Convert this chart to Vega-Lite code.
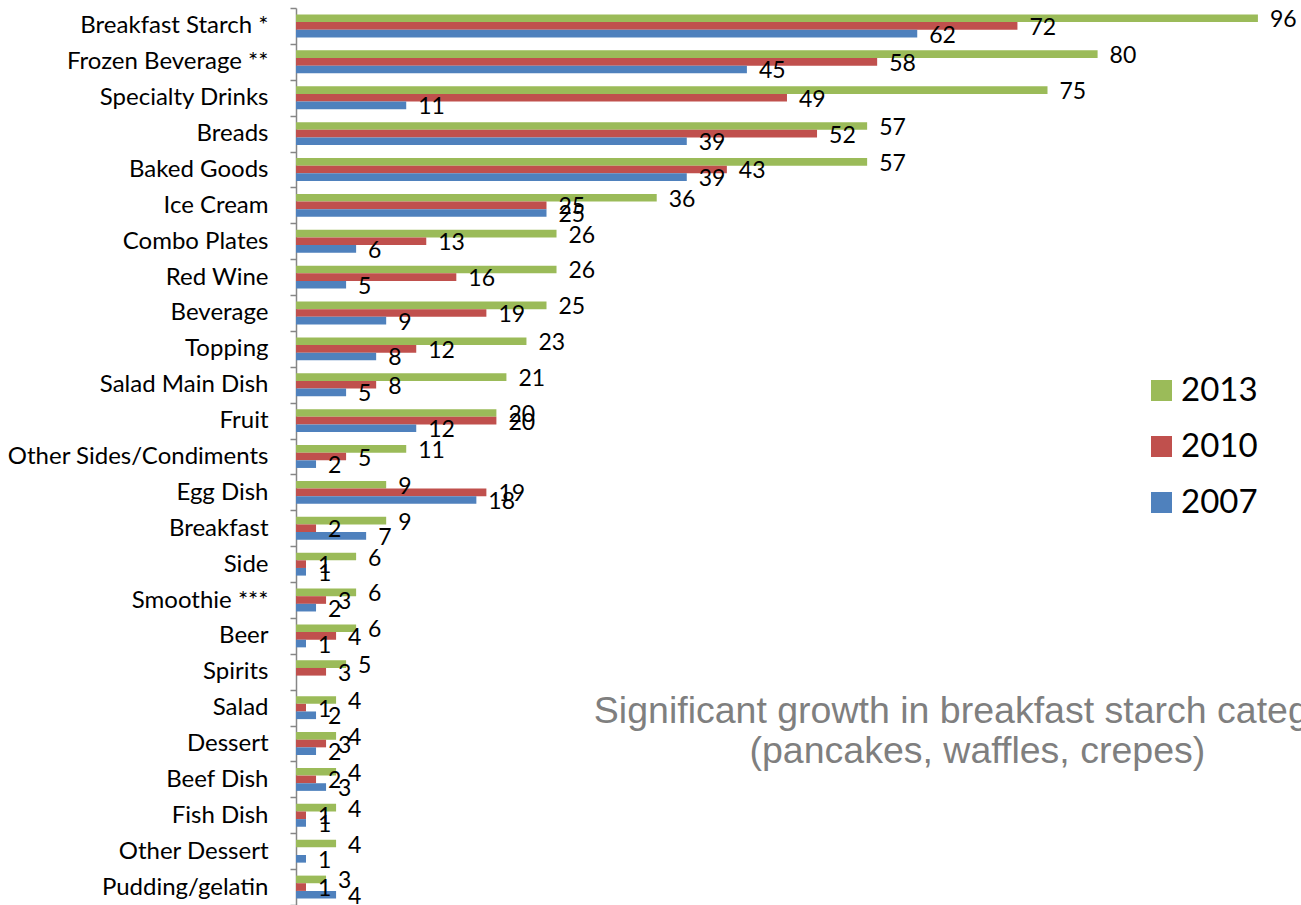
{
  "$schema": "https://vega.github.io/schema/vega-lite/v6.json",
  "width": 1002,
  "height": 897,
  "autosize": {"type": "none"},
  "padding": {"left": 296, "top": 8, "right": 3, "bottom": 0},
  "background": "white",
  "config": {"view": {"stroke": null}, "font": "Lato"},
  "data": {"values": [
    {"cat": "Breakfast Starch *", "year": "2013", "value": 96},
    {"cat": "Breakfast Starch *", "year": "2010", "value": 72},
    {"cat": "Breakfast Starch *", "year": "2007", "value": 62},
    {"cat": "Frozen Beverage **", "year": "2013", "value": 80},
    {"cat": "Frozen Beverage **", "year": "2010", "value": 58},
    {"cat": "Frozen Beverage **", "year": "2007", "value": 45},
    {"cat": "Specialty Drinks", "year": "2013", "value": 75},
    {"cat": "Specialty Drinks", "year": "2010", "value": 49},
    {"cat": "Specialty Drinks", "year": "2007", "value": 11},
    {"cat": "Breads", "year": "2013", "value": 57},
    {"cat": "Breads", "year": "2010", "value": 52},
    {"cat": "Breads", "year": "2007", "value": 39},
    {"cat": "Baked Goods", "year": "2013", "value": 57},
    {"cat": "Baked Goods", "year": "2010", "value": 43},
    {"cat": "Baked Goods", "year": "2007", "value": 39},
    {"cat": "Ice Cream", "year": "2013", "value": 36},
    {"cat": "Ice Cream", "year": "2010", "value": 25},
    {"cat": "Ice Cream", "year": "2007", "value": 25},
    {"cat": "Combo Plates", "year": "2013", "value": 26},
    {"cat": "Combo Plates", "year": "2010", "value": 13},
    {"cat": "Combo Plates", "year": "2007", "value": 6},
    {"cat": "Red Wine", "year": "2013", "value": 26},
    {"cat": "Red Wine", "year": "2010", "value": 16},
    {"cat": "Red Wine", "year": "2007", "value": 5},
    {"cat": "Beverage", "year": "2013", "value": 25},
    {"cat": "Beverage", "year": "2010", "value": 19},
    {"cat": "Beverage", "year": "2007", "value": 9},
    {"cat": "Topping", "year": "2013", "value": 23},
    {"cat": "Topping", "year": "2010", "value": 12},
    {"cat": "Topping", "year": "2007", "value": 8},
    {"cat": "Salad Main Dish", "year": "2013", "value": 21},
    {"cat": "Salad Main Dish", "year": "2010", "value": 8},
    {"cat": "Salad Main Dish", "year": "2007", "value": 5},
    {"cat": "Fruit", "year": "2013", "value": 20},
    {"cat": "Fruit", "year": "2010", "value": 20},
    {"cat": "Fruit", "year": "2007", "value": 12},
    {"cat": "Other Sides/Condiments", "year": "2013", "value": 11},
    {"cat": "Other Sides/Condiments", "year": "2010", "value": 5},
    {"cat": "Other Sides/Condiments", "year": "2007", "value": 2},
    {"cat": "Egg Dish", "year": "2013", "value": 9},
    {"cat": "Egg Dish", "year": "2010", "value": 19},
    {"cat": "Egg Dish", "year": "2007", "value": 18},
    {"cat": "Breakfast", "year": "2013", "value": 9},
    {"cat": "Breakfast", "year": "2010", "value": 2},
    {"cat": "Breakfast", "year": "2007", "value": 7},
    {"cat": "Side", "year": "2013", "value": 6},
    {"cat": "Side", "year": "2010", "value": 1},
    {"cat": "Side", "year": "2007", "value": 1},
    {"cat": "Smoothie ***", "year": "2013", "value": 6},
    {"cat": "Smoothie ***", "year": "2010", "value": 3},
    {"cat": "Smoothie ***", "year": "2007", "value": 2},
    {"cat": "Beer", "year": "2013", "value": 6},
    {"cat": "Beer", "year": "2010", "value": 4},
    {"cat": "Beer", "year": "2007", "value": 1},
    {"cat": "Spirits", "year": "2013", "value": 5},
    {"cat": "Spirits", "year": "2010", "value": 3},
    {"cat": "Salad", "year": "2013", "value": 4},
    {"cat": "Salad", "year": "2010", "value": 1},
    {"cat": "Salad", "year": "2007", "value": 2},
    {"cat": "Dessert", "year": "2013", "value": 4},
    {"cat": "Dessert", "year": "2010", "value": 3},
    {"cat": "Dessert", "year": "2007", "value": 2},
    {"cat": "Beef Dish", "year": "2013", "value": 4},
    {"cat": "Beef Dish", "year": "2010", "value": 2},
    {"cat": "Beef Dish", "year": "2007", "value": 3},
    {"cat": "Fish Dish", "year": "2013", "value": 4},
    {"cat": "Fish Dish", "year": "2010", "value": 1},
    {"cat": "Fish Dish", "year": "2007", "value": 1},
    {"cat": "Other Dessert", "year": "2013", "value": 4},
    {"cat": "Other Dessert", "year": "2007", "value": 1},
    {"cat": "Pudding/gelatin", "year": "2013", "value": 3},
    {"cat": "Pudding/gelatin", "year": "2010", "value": 1},
    {"cat": "Pudding/gelatin", "year": "2007", "value": 4}
  ]},
  "layer": [
    {
      "mark": {"type": "bar", "opacity": 1},
      "encoding": {
        "y": {"field": "cat", "type": "nominal", "sort": null,
              "scale": {"paddingInner": 0, "paddingOuter": 0},
              "axis": {"title": null, "domainColor": "#868686", "domainWidth": 1.5, "tickColor": "#868686", "tickWidth": 1.5, "tickSize": 6, "tickBand": "extent", "labelFont": "Lato", "labelFontSize": 24, "labelColor": "#000000", "labelPadding": 22, "labelLimit": 0}},
        "yOffset": {"field": "year", "type": "nominal", "sort": ["2013", "2010", "2007"], "scale": {"paddingInner": 0, "paddingOuter": 0.85}},
        "x": {"field": "value", "type": "quantitative", "scale": {"domain": [0, 100], "nice": false}, "axis": null},
        "color": {"field": "year", "type": "nominal",
                  "scale": {"domain": ["2013", "2010", "2007"], "range": ["#9BBB59", "#C0504D", "#4F81BD"]},
                  "legend": {"title": null, "orient": "none", "legendX": 849, "legendY": 366, "padding": 0, "symbolType": "square", "symbolSize": 440, "symbolStrokeWidth": 0, "symbolOpacity": 1, "labelFont": "Lato", "labelFontSize": 33, "labelColor": "#000000", "labelOffset": 3, "rowPadding": 22}}
      }
    },
    {
      "mark": {"type": "text", "align": "left", "baseline": "middle", "dx": 12, "dy": 2, "fontSize": 23, "font": "Lato", "color": "#000000"},
      "encoding": {
        "y": {"field": "cat", "type": "nominal", "sort": null},
        "yOffset": {"field": "year", "type": "nominal", "sort": ["2013", "2010", "2007"]},
        "x": {"field": "value", "type": "quantitative"},
        "text": {"field": "value", "type": "quantitative"}
      }
    },
    {
      "data": {"values": [{"cat": "Salad", "value": 68, "note": ["Significant growth in breakfast starch category", "(pancakes, waffles, crepes)"]}]},
      "mark": {"type": "text", "align": "center", "baseline": "middle", "dy": 4, "fontSize": 37.5, "font": "Liberation Sans", "color": "#7F7F7F", "lineHeight": 40},
      "encoding": {
        "y": {"field": "cat", "type": "nominal", "sort": null},
        "x": {"field": "value", "type": "quantitative"},
        "text": {"field": "note"}
      }
    }
  ]
}
